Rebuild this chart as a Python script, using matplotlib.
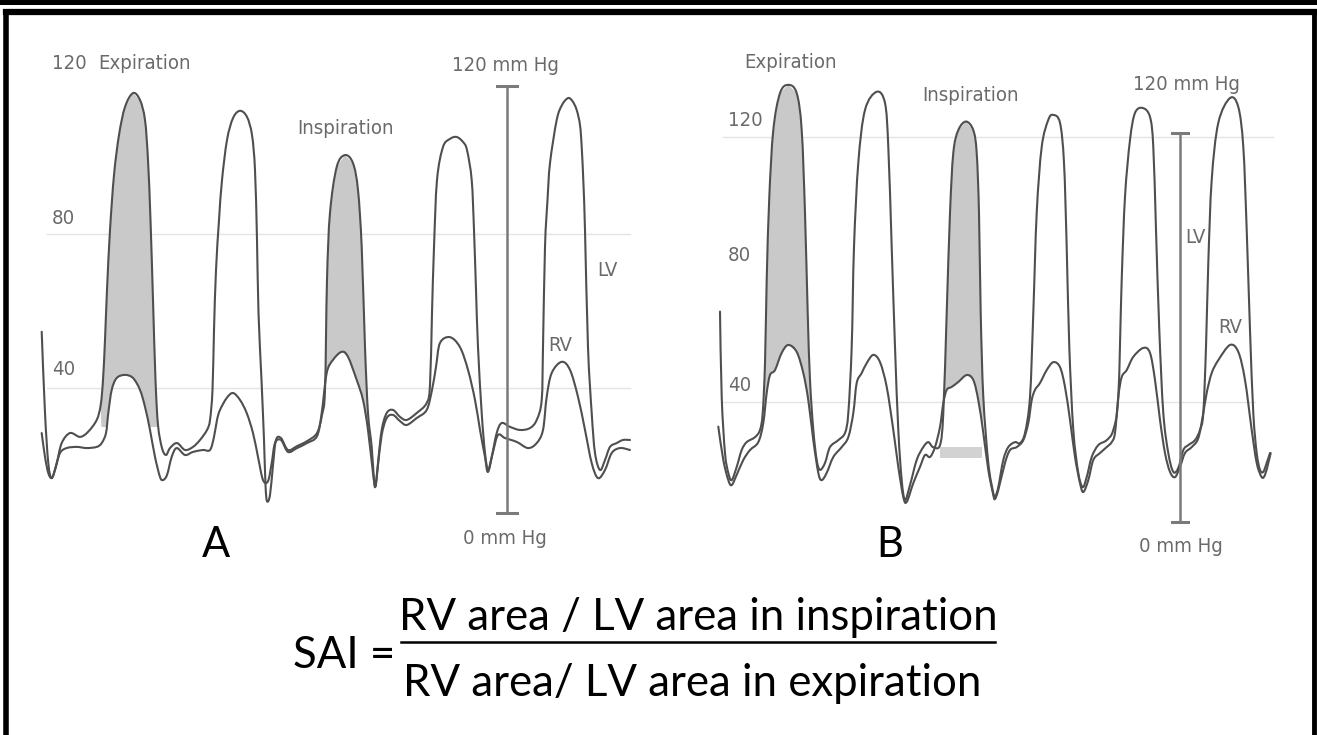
import numpy as np
import matplotlib
matplotlib.use("Agg")
import matplotlib.pyplot as plt
from matplotlib import font_manager
from matplotlib.patches import Rectangle, PathPatch
from matplotlib.path import Path

# ---------------- data (time in samples, pressure in mmHg) ----------------
a_lv_t = [1.7, 5, 8.3, 11.7, 16.7, 21.7, 30, 40, 48, 56.7, 60.7, 63, 65, 67, 70, 74, 79, 85, 93, 100, 105, 108,
          110.5, 113, 115.5, 118, 122, 126, 130, 137, 145, 153, 160, 167, 170, 172.5, 174, 176, 179, 182, 187,
          193, 200, 207, 212, 215, 217, 218.5, 221.5, 224, 225.5, 227, 230, 233, 236, 241, 248, 257, 267, 277,
          282, 285, 287, 290, 296.7, 305, 313, 318, 321.7, 325, 328, 331.7, 334, 335.5, 338, 341.7, 346.7, 353,
          360, 366.7, 376.7, 386.7, 390, 392, 394, 397, 403, 410, 416.7, 423, 427, 431.7, 434, 436, 438, 441.7,
          445, 448, 451.7, 456.7, 461.7, 470, 480, 490, 496.7, 501.7, 503, 505, 507.5, 510, 516.7, 522, 528,
          532.5, 536.7, 540, 541.7, 543.5, 545, 548, 551.7, 555, 560, 565, 570, 576.7, 583, 590]
a_lv_p = [54.6, 33.5, 20.5, 16.6, 20.5, 25.7, 28.3, 27.3, 28.6, 31.7, 35.6, 42.1, 52.5, 65.5, 81, 95.3, 105.7,
          113, 116.6, 114.8, 109.6, 99.2, 83.6, 62.9, 42.1, 30.4, 24.4, 22.6, 24.4, 25.7, 23.9, 24.7, 26.5, 29.1,
          31.7, 39.5, 55, 70.6, 83.6, 94, 104.4, 110.1, 112, 110.4, 105.7, 96.6, 78.4, 59.5, 42.1, 26.5, 14.8,
          10.6, 12.2, 20, 26.5, 27, 23.9, 24.9, 26.2, 28.3, 33, 39.5, 68, 85.5, 97.4, 100.5, 98.4, 91.4, 76.6,
          50.6, 33.5, 24.7, 16.1, 14.5, 20.5, 29.1, 33.5, 34.3, 32.5, 31.7, 33.5, 36.1, 40.8, 59.5, 76.6, 94,
          102.6, 104.7, 105.2, 103.9, 101.8, 94, 81, 65.5, 50.6, 33.5, 23.1, 18.7, 22.1, 28.3, 30.9, 29.9, 29.1,
          29.6, 31.7, 36.9, 50.6, 76.6, 88.8, 98.4, 109.6, 113.5, 115.3, 114.5, 112.2, 108.3, 102.6, 92.7, 81,
          50.6, 33.5, 23.1, 18.7, 21.3, 24.7, 25.7, 26.5, 26.5]

a_rv_t = [1.7, 5, 8.3, 11.7, 15, 20, 26.7, 36.7, 46.7, 56.7, 61.7, 66, 68.3, 71.7, 76.7, 85, 93, 100, 105, 110,
          115, 120, 123, 127, 131.7, 136.7, 145, 153, 163, 170, 174, 177, 180, 186.7, 193, 200, 206.7, 213, 218,
          223, 228, 231.7, 235, 241, 248, 257, 267, 277, 281.7, 286.7, 293, 301.7, 308, 316.7, 323, 328, 333,
          335.5, 338, 341.7, 346.7, 353, 360, 366.7, 376.7, 386.7, 392, 396, 400, 410, 420, 428, 435, 440, 445,
          448, 453, 458, 465, 476.7, 488, 496.7, 503, 506.7, 511.7, 521.7, 530, 538, 545, 551.7, 558, 565,
          571.7, 580, 590]
a_rv_p = [28.3, 22.1, 17.9, 16.6, 18.7, 23.1, 24.4, 24.7, 24.4, 24.7, 25.7, 28.3, 33.5, 39.5, 42.6, 43.4, 42.6,
          39.5, 35.1, 29.1, 22.1, 16.9, 16.1, 17.4, 22.1, 24.4, 22.6, 23.4, 23.9, 23.9, 27.3, 31.7, 34.3, 37.4,
          38.7, 36.9, 33.5, 28.3, 22.1, 16.1, 15.8, 20.5, 25.7, 26.5, 23.4, 24.4, 25.7, 27.5, 33.5, 43.9, 47.3,
          49.4, 48.1, 42.1, 36.9, 29.1, 17.9, 14.5, 20, 27.8, 32.2, 33, 31.4, 30.4, 32.2, 34.3, 39.5, 45.5, 51.7,
          53.2, 50.6, 44.7, 36.9, 29.1, 22.1, 18.2, 23.4, 27.8, 27, 26, 24.4, 25.7, 29.1, 37.7, 43.9, 46.8, 44.7,
          37.7, 29.1, 20.5, 16.6, 18.7, 23.1, 24.4, 23.9]

b_lv_t = [0, 1.7, 5, 8.3, 11.7, 16.7, 21.7, 26.7, 35, 40, 42.7, 45, 46.7, 49.3, 53.3, 60, 68.3, 76.7, 81.7, 85,
          87.7, 90, 93.3, 96.7, 100, 105, 110, 118.3, 125, 128.3, 131.7, 134, 138.3, 145, 156.7, 165, 168.3,
          171.7, 175, 178.3, 181.7, 185, 190, 196.7, 203.3, 208.3, 213, 220, 223.3, 226.7, 230, 233.3, 238.3,
          246, 253.3, 256.7, 259, 260.7, 263.3, 268.3, 273.3, 275, 278.3, 283.3, 288.3, 295, 300, 305, 310,
          313.3, 316.7, 321.7, 328.3, 333.3, 340, 344, 346.7, 349.3, 353.3, 358.3, 362.7, 366.7, 371.7, 378.3,
          386.7, 393.3, 398.3, 401.7, 405, 410, 415, 422.7, 430, 433.3, 436, 439.3, 443.3, 448.3, 453.3, 458.3,
          463.3, 468.3, 475, 480, 483.3, 486, 488.3, 491.7, 498.3, 510, 518.3, 523.3, 526.7, 530, 533.3, 536.7,
          540, 543.3, 546.7, 550]
b_lv_p = [67.3, 41.5, 24.5, 18.5, 16.3, 20.3, 25.4, 27.8, 29.3, 31.5, 36.6, 51.7, 76.9, 102, 122.2, 133.4,
          135.9, 133.4, 122.2, 97.1, 66.9, 46.6, 31.5, 22.4, 19.4, 21.5, 26.3, 28.4, 30.6, 36.6, 56.6, 86.8,
          112.3, 128.3, 133.8, 130.4, 117.1, 86.8, 56.6, 31.5, 16.3, 10.3, 14.8, 22.4, 26.3, 27.8, 26.3, 26.9,
          36.6, 66.9, 97.1, 115.3, 122.2, 124.8, 122.2, 115.3, 97.1, 66.9, 41.5, 21.5, 12.4, 11.2, 14.2, 22.4,
          26.3, 27.8, 27.5, 30.6, 41.5, 66.9, 97.1, 117.1, 125.3, 126.8, 124.4, 112.3, 86.8, 56.6, 31.5, 18.5,
          14.2, 17.2, 23.3, 26.9, 28.4, 31.5, 41.5, 76.9, 102, 119.2, 127.4, 128.9, 126.2, 117.1, 92, 61.7,
          36.6, 24.5, 18.8, 20, 25.4, 26.9, 28.4, 31.5, 36.6, 56.6, 82, 107.1, 124.4, 131.9, 129.2, 117.1, 92,
          61.7, 36.6, 24.5, 19.4, 18.8, 21.5, 24.5]

b_rv_t = [-1.7, 3.3, 8.3, 11.7, 16.7, 23.3, 30, 38.3, 43.3, 46.7, 50, 55, 61.7, 68.3, 76.7, 83.3, 88.3, 93.3,
          98.3, 101.7, 106.7, 113.3, 121.7, 128.3, 133.3, 136.7, 141.7, 146.7, 153.3, 160, 166.7, 173.3, 178.3,
          183.3, 186.7, 193.3, 200, 205, 210, 215, 220, 223.3, 226.7, 231.7, 238.3, 246.7, 253.3, 258.3, 263.3,
          268.3, 273.3, 275, 278.3, 285, 290, 296.7, 303.3, 308.3, 311.7, 315, 320, 326.7, 333.3, 340, 345, 350,
          355, 360, 363.3, 368.3, 373.3, 380, 386.7, 391.7, 395, 398.3, 401.7, 406.7, 413.3, 423.3, 430, 435,
          440, 445, 450, 455, 460, 465, 471.7, 478.3, 483.3, 486.7, 491.7, 498.3, 510, 518.3, 525, 531.7, 536.7,
          541.7, 545, 548.3, 550.7]
b_rv_p = [32.5, 22.4, 16.3, 14.8, 17.9, 22.4, 25.4, 27.8, 33.6, 42.7, 48.1, 49.6, 54.8, 57.2, 55.1, 48.7, 40.5,
          28.4, 18.5, 16.3, 18.5, 23.3, 26.3, 29.3, 36.6, 45.7, 48.7, 51.7, 54.2, 52, 44.5, 31.5, 20.3, 11.2,
          9.7, 15.4, 20.3, 23.9, 23.3, 26.3, 32.4, 39.6, 43.6, 44.5, 46, 48.1, 46.6, 40.5, 30.6, 19.4, 11.8, 10.6,
          13.3, 21.5, 25.4, 26.3, 28.4, 33.6, 40.5, 43.6, 45.7, 49.6, 52, 50.5, 44.5, 34.5, 23.3, 15.4, 12.7,
          16.3, 22.4, 24.5, 26.3, 27.8, 30.6, 41.5, 47.5, 49.6, 53.6, 56.3, 54.8, 46.6, 34.5, 24.5, 18.8, 17.2,
          20.3, 24.5, 26.3, 29, 36.6, 42.7, 48.7, 52.6, 57.2, 55.1, 46.6, 31.5, 21.5, 17.2, 17.9, 21.5, 24.5]

a_grid = [80, 40]
b_grid = [120, 40]
# shaded beats: (start, end, floor pressure)
a_shade_start = [60.7, 282]
a_shade_end = [118, 341.7]
a_shade_floor = [30, 30]
b_shade_start = [42.7, 223.3]
b_shade_end = [93.3, 263.3]
b_shade_floor = [30, 30]
b_band_t = [220, 262]
b_band_p = [23.0, 26.3]

# ---------------- figure ----------------
W, H = 1317, 735
fig = plt.figure(figsize=(W / 100, H / 100), dpi=100)
fig.patch.set_facecolor("white")

# narrow sans for the small labels, if one is installed
small_fp = None
for f in font_manager.fontManager.ttflist:
    fn = f.fname.lower()
    if "liberationsansnarrow-regular" in fn or "dejavusanscondensed.ttf" in fn:
        small_fp = font_manager.FontProperties(fname=f.fname)
        break
if small_fp is None:
    small_fp = font_manager.FontProperties(family="Liberation Sans")
    NSIZE = 14.5
else:
    NSIZE = 14.6
BIG = "Lato"

LINE = "#4f4f4f"
FILL = "#c9c9c9"
GRID = "#e4e4e4"
LABEL = "#6a6a6a"


def panel_axes(x0, y0, sy, tlim, plim):
    left = x0 + tlim[0]
    right = x0 + tlim[1]
    top = y0 - plim[1] * sy
    bottom = y0 - plim[0] * sy
    ax = fig.add_axes([left / W, 1 - bottom / H, (right - left) / W, (bottom - top) / H])
    ax.set_xlim(*tlim)
    ax.set_ylim(*plim)
    ax.axis("off")
    return ax


def trace_path(t, p):
    """Smooth (Catmull-Rom as cubic Bezier) path through the traced points."""
    P = np.column_stack([np.asarray(t, float), np.asarray(p, float)])
    n = len(P)
    verts = [P[0]]
    codes = [Path.MOVETO]
    for i in range(n - 1):
        p0 = P[i - 1] if i > 0 else P[i]
        p1, p2 = P[i], P[i + 1]
        p3 = P[i + 2] if i + 2 < n else P[i + 1]
        verts += [p1 + (p2 - p0) / 6.0, p2 - (p3 - p1) / 6.0, p2]
        codes += [Path.CURVE4] * 3
    return Path(verts, codes)


def shade(ax, lt, lp, rt, rp, t0, t1, floor):
    lt, lp, rt, rp = map(np.asarray, (lt, lp, rt, rp))
    m1 = (lt >= t0) & (lt <= t1)
    m2 = (rt >= t0) & (rt <= t1)
    xs = np.concatenate([lt[m1], rt[m2][::-1]])
    ys = np.concatenate([lp[m1], rp[m2][::-1]])
    poly = ax.fill(xs, ys, color=FILL, lw=0, zorder=1)[0]
    clip = Rectangle((t0 - 10, floor), t1 - t0 + 20, 300, transform=ax.transData)
    poly.set_clip_path(clip)


def draw_panel(ax, lvt, lvp, rvt, rvp, s0, s1, sf):
    for a, b, f in zip(s0, s1, sf):
        shade(ax, lvt, lvp, rvt, rvp, a, b, f)
    for t, p in ((rvt, rvp), (lvt, lvp)):
        ax.add_patch(PathPatch(trace_path(t, p), fill=False, edgecolor=LINE, lw=1.5,
                               zorder=3, joinstyle="round", capstyle="round"))


axA = panel_axes(40, 542, 3.85, (-5, 600), (0, 130))
for g in a_grid:
    axA.plot([7, 590], [g, g], color=GRID, lw=1.0, zorder=0.5)
draw_panel(axA, a_lv_t, a_lv_p, a_rv_t, a_rv_p, a_shade_start, a_shade_end, a_shade_floor)

axB = panel_axes(720, 534, 3.305, (-5, 580), (0, 140))
axB.fill_between(b_band_t, b_band_p[0], b_band_p[1], color="#d2d2d2", lw=0, zorder=1)
axB.plot([3, 553], [b_grid[0]] * 2, color=GRID, lw=1.0, zorder=0.5)
axB.plot([3, 535], [b_grid[1]] * 2, color=GRID, lw=1.0, zorder=0.5)
draw_panel(axB, b_lv_t, b_lv_p, b_rv_t, b_rv_p, b_shade_start, b_shade_end, b_shade_floor)

# ---------------- overlay in pixel coordinates ----------------
ov = fig.add_axes([0, 0, 1, 1], zorder=5)
ov.set_xlim(0, W)
ov.set_ylim(H, 0)
ov.axis("off")
ov.patch.set_alpha(0)

# frame
ov.add_patch(Rectangle((0, 0), W, 4.5, color="black", lw=0))
ov.plot([6, 1313.5], [12, 12], color="black", lw=4.5, solid_capstyle="projecting")
ov.plot([6, 6], [12, H + 5], color="black", lw=4.0, solid_capstyle="projecting")
ov.plot([1313.5, 1313.5], [12, H + 5], color="black", lw=3.5, solid_capstyle="projecting")

# scale bars
for x, y0, y1, cw in [(507, 86, 513, 10), (1180, 133, 522, 8)]:
    ov.plot([x, x], [y0, y1], color="#7a7a7a", lw=1.8)
    ov.plot([x - cw, x + cw], [y0, y0], color="#7a7a7a", lw=2.2)
    ov.plot([x - cw, x + cw], [y1, y1], color="#7a7a7a", lw=2.2)


def small(x, y, s, ha="left"):
    ov.text(x, y, s, ha=ha, va="center", fontproperties=small_fp, fontsize=NSIZE, color=LABEL)


small(52, 63, "120")
small(98, 63, "Expiration")
small(52, 218, "80")
small(52, 369, "40")
small(297, 128, "Inspiration")
small(452, 65, "120 mm Hg")
small(597, 270, "LV")
small(548, 345, "RV")
small(505, 538, "0 mm Hg", ha="center")

small(744, 62, "Expiration")
small(728, 120, "120")
small(728, 255, "80")
small(728, 385, "40")
small(922, 95, "Inspiration")
small(1133, 84, "120 mm Hg")
small(1185, 237, "LV")
small(1218, 327, "RV")
small(1181, 546, "0 mm Hg", ha="center")

ov.text(216, 545, "A", ha="center", va="center", fontsize=30, family=BIG, color="black")
ov.text(890, 545, "B", ha="center", va="center", fontsize=30, family=BIG, color="black")

FS = 31.5
ov.text(395, 656, "SAI =", ha="right", va="center", fontsize=FS, family=BIG, color="black")
ov.text(698, 618, "RV area / LV area in inspiration", ha="center", va="center",
        fontsize=FS, family=BIG, color="black")
ov.plot([401, 995], [642, 642], color="black", lw=1.8)
ov.text(692, 684, "RV area/ LV area in expiration", ha="center", va="center",
        fontsize=FS, family=BIG, color="black")

fig.savefig("out.png", dpi=100, facecolor="white")
